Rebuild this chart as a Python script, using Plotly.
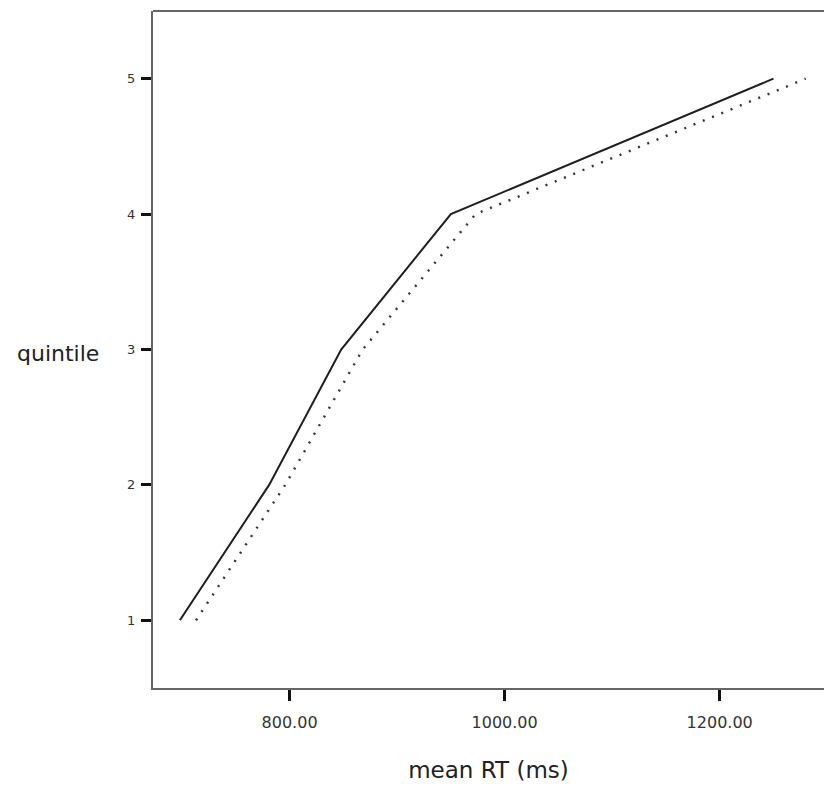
import plotly.graph_objects as go

quintiles = [1, 2, 3, 4, 5]
rt_solid = [698, 781, 848, 950, 1250]
rt_dotted = [713, 796, 868, 973, 1280]
x_ticks = [800, 1000, 1200]
y_ticks = [1, 2, 3, 4, 5]

fig = go.Figure()
fig.add_trace(go.Scatter(x=rt_dotted, y=quintiles, mode="lines",
                         line=dict(color="#333333", width=2.4, dash="2px,8px"),
                         showlegend=False, hoverinfo="skip"))
fig.add_trace(go.Scatter(x=rt_solid, y=quintiles, mode="lines",
                         line=dict(color="#1e1e1e", width=2),
                         showlegend=False, hoverinfo="skip"))

fig.update_layout(
    width=824, height=796,
    margin=dict(l=153, r=0, t=11, b=108),
    plot_bgcolor="white", paper_bgcolor="white",
    font=dict(family="DejaVu Sans", color="#333"),
    xaxis=dict(range=[673, 1297], tickvals=x_ticks, tickformat=".2f",
               showgrid=False, zeroline=False, showline=True,
               linecolor="#666", linewidth=2,
               ticks="outside", ticklen=11, tickwidth=2.5, tickcolor="#111",
               tickfont=dict(size=16, color="#333"), ticklabelstandoff=8,
               title=dict(text="mean RT (ms)", font=dict(size=23, color="#222"),
                          standoff=31)),
    yaxis=dict(range=[0.5, 5.5], tickvals=y_ticks,
               showgrid=False, zeroline=False, showline=True,
               linecolor="#666", linewidth=2,
               ticks="outside", ticklen=10, tickwidth=2.5, tickcolor="#111",
               tickfont=dict(size=13, color="#333"), ticklabelstandoff=3),
    shapes=[dict(type="line", xref="paper", yref="paper", x0=0, x1=1, y0=1, y1=1,
                 line=dict(color="#666", width=2))],
    annotations=[dict(text="quintile", xref="paper", yref="y", x=0, y=3,
                      xanchor="right", yanchor="middle", xshift=-52, yshift=-4,
                      showarrow=False, font=dict(size=22, color="#222"))],
)

fig.write_html("out.html")
